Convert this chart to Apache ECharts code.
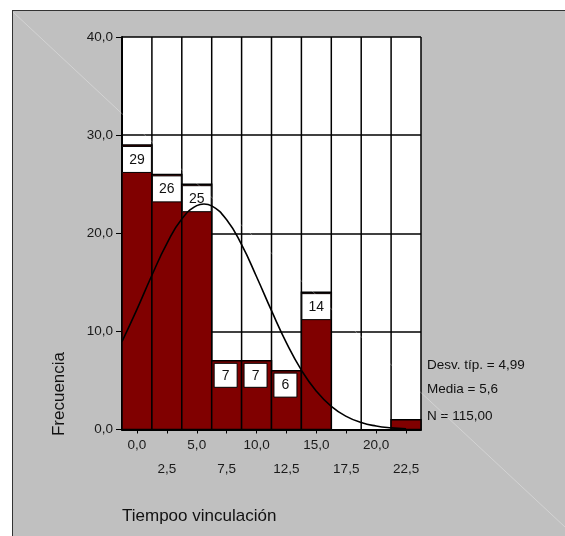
<!DOCTYPE html>
<html>
<head>
<meta charset="utf-8">
<script src="https://cdn.jsdelivr.net/npm/echarts@6/dist/echarts.min.js"></script>
<style>
  html, body { margin: 0; padding: 0; background: #fff; }
  #frame { position: absolute; left: 12px; top: 10px; width: 560px; height: 540px;
           background: #c0c0c0; border-left: 1.5px solid #333; border-top: 1.5px solid #333; }
  #chart { position: absolute; left: 0; top: 0; width: 565px; height: 536px; }
</style>
</head>
<body>
<div id="frame"></div>
<div id="chart"></div>
<script>
// ---- data ----
const binCenters = [0, 2.5, 5, 7.5, 10, 12.5, 15, 17.5, 20, 22.5];
const counts = [29, 26, 25, 7, 7, 6, 14, 0, 0, 1];
const binWidth = 2.5;
const xMajorLabels = [0, 5, 10, 15, 20];
const xMinorLabels = [2.5, 7.5, 12.5, 17.5, 22.5];
const xTickValues = [0, 2.5, 5, 7.5, 10, 12.5, 15, 17.5, 20, 22.5];
// normal curve
const curveX = [-1.25, 0, 1.25, 2.5, 3.75, 5, 5.6, 6.25, 7.5, 8.75, 10, 11.25, 12.5, 13.75, 15, 16.25, 17.5, 18.75, 20, 21.25, 22.5];
const curveY = [8.96, 12.24, 15.72, 18.95, 21.45, 22.81, 22.98, 22.79, 21.37, 18.83, 15.57, 12.11, 8.83, 6.05, 3.90, 2.36, 1.34, 0.71, 0.36, 0.17, 0.07];
const statsLines = ['Desv. típ. = 4,99', 'Media = 5,6', 'N = 115,00'];
const xTitle = 'Tiempoo vinculación';
const yTitle = 'Frecuencia';

const FONT = '"Liberation Sans", Arial, sans-serif';
const fmt = v => v.toFixed(1).replace('.', ',');

const chart = echarts.init(document.getElementById('chart'), null, { renderer: 'canvas' });

const xMin = binCenters[0] - binWidth / 2;
const xMax = binCenters[binCenters.length - 1] + binWidth / 2;

function renderGridLines(params, api) {
  const c = api.value(0);
  const lines = [];
  const edges = [c - binWidth / 2];
  if (params.dataIndex === binCenters.length - 1) edges.push(c + binWidth / 2);
  edges.forEach(e => {
    const a = api.coord([e, 0]), b = api.coord([e, 40]);
    lines.push({ type: 'line', shape: { x1: a[0], y1: a[1], x2: b[0], y2: b[1] },
                 style: { stroke: '#000', lineWidth: 1.5 } });
  });
  return { type: 'group', children: lines };
}

function renderBar(params, api) {
  const c = api.value(0), n = api.value(1);
  const p0 = api.coord([c - binWidth / 2, 0]);
  const p1 = api.coord([c + binWidth / 2, n]);
  const children = [];
  if (n > 0) {
    children.push({ type: 'rect',
      shape: { x: p0[0], y: p1[1], width: p1[0] - p0[0], height: p0[1] - p1[1] },
      style: { fill: '#800000', stroke: '#000', lineWidth: 1.5 } });
  }
  if (n >= 5) {
    let bx, by, bw, bh;
    if (n >= 10) {
      bx = p0[0] + 0.5; bw = p1[0] - p0[0] - 1; by = p1[1] + 1.5; bh = 26;
    } else {
      bw = 23; bh = 24; bx = (p0[0] + p1[0]) / 2 - bw / 2 - 1; by = p1[1] + 2.5;
    }
    children.push({ type: 'rect', shape: { x: bx, y: by, width: bw, height: bh },
      style: { fill: '#fff', stroke: '#000', lineWidth: 1 } });
    children.push({ type: 'text', style: { text: String(n), x: bx + bw / 2, y: by + bh / 2 + 0.5,
      align: 'center', verticalAlign: 'middle', fontSize: 14, fontFamily: FONT, fill: '#111' } });
  }
  return { type: 'group', children };
}

const option = {
  backgroundColor: 'transparent',
  animation: false,
  grid: { left: 122, top: 37, width: 299, height: 392.5, show: true, backgroundColor: '#fff', borderWidth: 0 },
  xAxis: [
    {
      type: 'value', min: xMin, max: xMax,
      axisLine: { show: true, onZero: false, lineStyle: { color: '#000', width: 2 } },
      axisTick: { show: true, customValues: xTickValues, length: 4, lineStyle: { color: '#000', width: 1 } },
      axisLabel: { customValues: xMajorLabels, formatter: fmt, margin: 9, fontSize: 13.5, fontFamily: FONT, color: '#1a1a1a' },
      splitLine: { show: false }
    },
    {
      type: 'value', min: xMin, max: xMax, position: 'bottom',
      axisLine: { show: false, onZero: false }, axisTick: { show: false },
      axisLabel: { customValues: xMinorLabels, formatter: fmt, margin: 33, fontSize: 13.5, fontFamily: FONT, color: '#1a1a1a' },
      splitLine: { show: false }
    }
  ],
  yAxis: {
    type: 'value', min: 0, max: 40, interval: 10,
    axisLine: { show: true, onZero: false, lineStyle: { color: '#000', width: 2 } },
    axisTick: { show: true, length: 6, lineStyle: { color: '#000', width: 1 } },
    axisLabel: { formatter: fmt, margin: 9, fontSize: 13.5, fontFamily: FONT, color: '#1a1a1a' },
    splitLine: { show: true, lineStyle: { color: '#000', width: 1.5 } }
  },
  series: [
    { type: 'custom', name: 'grid', xAxisIndex: 0, z: 1, renderItem: renderGridLines,
      data: binCenters.map(c => [c]), silent: true },
    { type: 'custom', name: 'bars', xAxisIndex: 0, z: 2, renderItem: renderBar,
      data: binCenters.map((c, i) => [c, counts[i]]), silent: true },
    { type: 'line', name: 'normal', xAxisIndex: 0, z: 3, smooth: true, symbol: 'none',
      lineStyle: { color: '#000', width: 1.6 },
      data: curveX.map((x, i) => [x, curveY[i]]) }
  ],
  graphic: [
    { type: 'text', left: 122, top: 508, style: { text: xTitle, fontSize: 17, fontFamily: FONT, fill: '#111' } },
    { type: 'text', x: 59, y: 394, rotation: Math.PI / 2,
      style: { text: yTitle, fontSize: 17, fontFamily: FONT, fill: '#111', align: 'center', verticalAlign: 'middle' } },
    { type: 'text', x: 427, y: 365, style: { text: statsLines[0], fontSize: 13.5, fontFamily: FONT, fill: '#111', verticalAlign: 'middle' } },
    { type: 'text', x: 427, y: 389.5, style: { text: statsLines[1], fontSize: 13.5, fontFamily: FONT, fill: '#111', verticalAlign: 'middle' } },
    { type: 'text', x: 427, y: 416.5, style: { text: statsLines[2], fontSize: 13.5, fontFamily: FONT, fill: '#111', verticalAlign: 'middle' } },
    { type: 'line', z: 100, shape: { x1: 13, y1: 12, x2: 565, y2: 527 },
      style: { stroke: 'rgba(255,255,255,0.3)', lineWidth: 1 }, silent: true }
  ]
};
chart.setOption(option);
</script>
</body>
</html>
